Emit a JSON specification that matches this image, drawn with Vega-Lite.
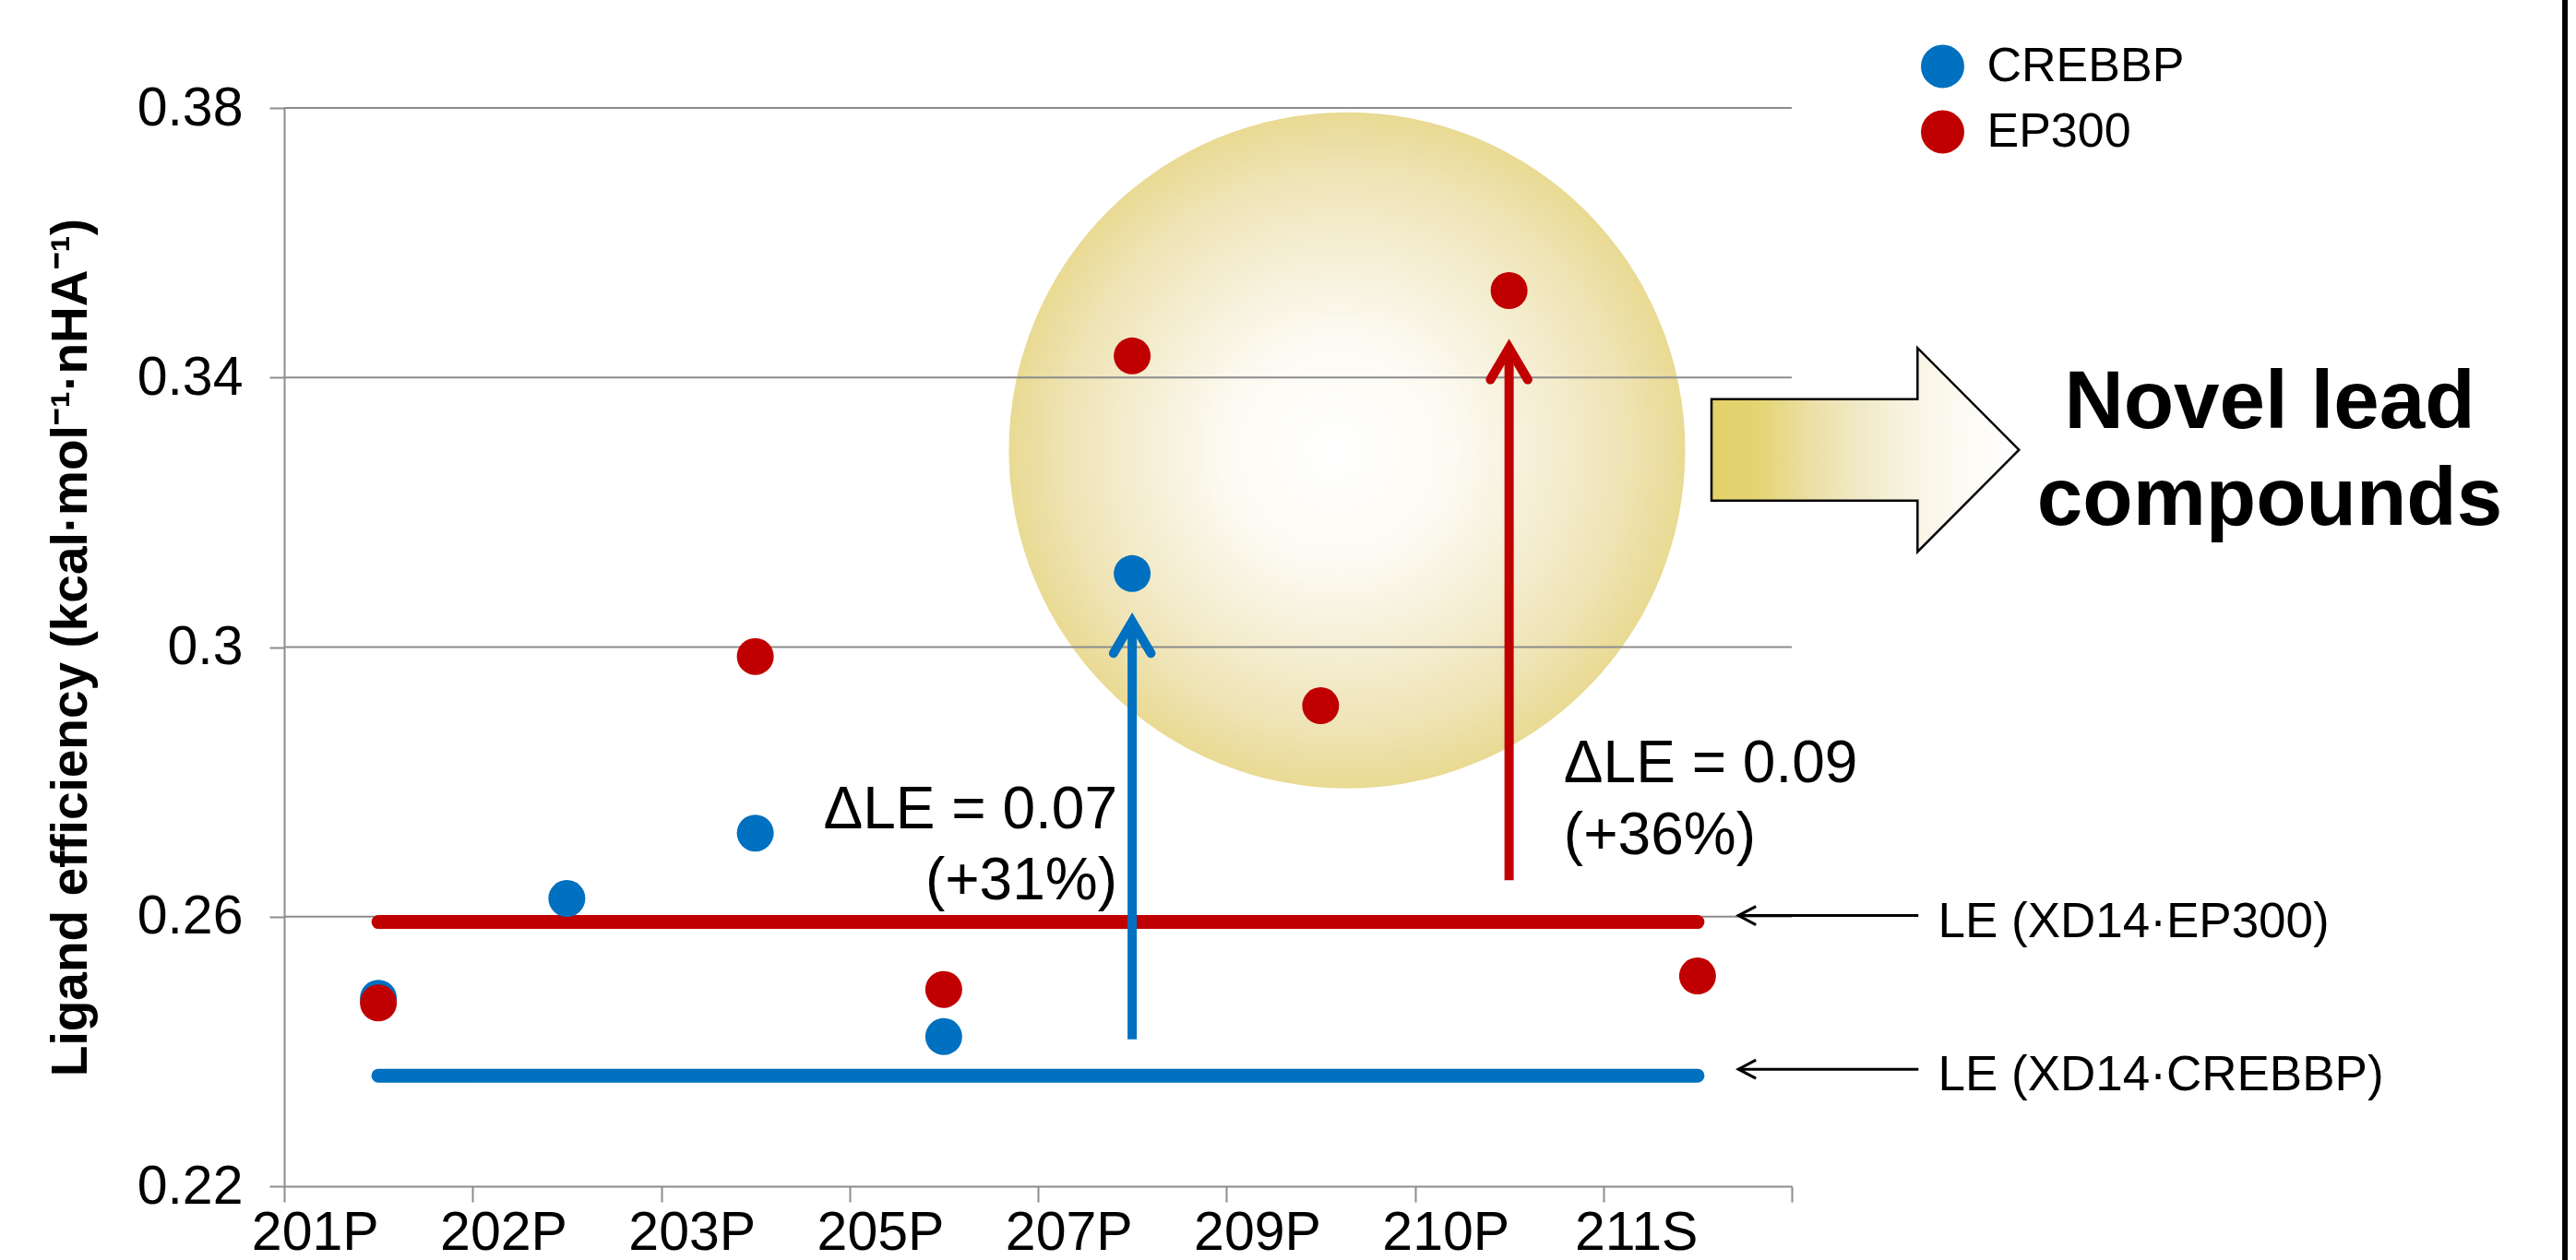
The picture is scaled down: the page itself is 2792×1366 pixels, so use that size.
{
  "$schema": "https://vega.github.io/schema/vega-lite/v6.json",
  "width": 1634,
  "height": 1169,
  "autosize": {"type": "none"},
  "padding": {"left": 308, "top": 117, "right": 850, "bottom": 80},
  "background": "white",
  "config": {
    "view": {"stroke": null},
    "font": "Liberation Sans",
    "axis": {
      "domainColor": "#8c8c8c",
      "domainWidth": 2,
      "tickColor": "#8c8c8c",
      "tickWidth": 2,
      "labelColor": "black",
      "labelFont": "Liberation Sans",
      "labelFontSize": 59,
      "titleColor": "black",
      "titleFont": "Liberation Sans"
    },
    "text": {"font": "Liberation Sans", "color": "black"}
  },
  "datasets": {
    "le": [
      {"compound": "201P", "protein": "CREBBP", "le": 0.2479},
      {"compound": "202P", "protein": "CREBBP", "le": 0.2627},
      {"compound": "203P", "protein": "CREBBP", "le": 0.2724},
      {"compound": "205P", "protein": "CREBBP", "le": 0.2422},
      {"compound": "207P", "protein": "CREBBP", "le": 0.3109},
      {"compound": "201P", "protein": "EP300", "le": 0.2472},
      {"compound": "203P", "protein": "EP300", "le": 0.2986},
      {"compound": "205P", "protein": "EP300", "le": 0.2492},
      {"compound": "207P", "protein": "EP300", "le": 0.3432},
      {"compound": "209P", "protein": "EP300", "le": 0.2913},
      {"compound": "210P", "protein": "EP300", "le": 0.3529},
      {"compound": "211S", "protein": "EP300", "le": 0.2512}
    ],
    "refs": [
      {"protein": "EP300", "le": 0.2592, "label": "LE (XD14·EP300)"},
      {"protein": "CREBBP", "le": 0.2364, "label": "LE (XD14·CREBBP)"}
    ],
    "gains": [
      {"compound": "207P", "protein": "CREBBP", "base": 0.2418, "top": 0.3038},
      {"compound": "210P", "protein": "EP300", "base": 0.2654, "top": 0.3444}
    ],
    "grid": [{"le": 0.26}, {"le": 0.30}, {"le": 0.34}, {"le": 0.38}],
    "one": [{}]
  },
  "layer": [
    {
      "layer": [
        {
          "data": {"name": "one"},
          "mark": {
            "type": "point", "shape": "circle", "filled": true, "size": 537289, "strokeWidth": 0, "opacity": 1,
            "fill": {
              "gradient": "radial", "x1": 0.48, "y1": 0.5, "r1": 0, "x2": 0.5, "y2": 0.5, "r2": 0.5,
              "stops": [
                {"offset": 0, "color": "#FFFFFF"},
                {"offset": 0.35, "color": "#FCFAF1"},
                {"offset": 0.6, "color": "#F5EED3"},
                {"offset": 0.82, "color": "#EFE4B6"},
                {"offset": 1, "color": "#E9DA93"}
              ]
            }
          },
          "encoding": {
            "x": {"datum": 5.64, "type": "quantitative", "scale": {"domain": [0, 8], "nice": false, "zero": false}, "axis": null},
            "y": {"datum": 0.3292, "type": "quantitative", "scale": {"domain": [0.22, 0.38], "nice": false, "zero": false}}
          }
        },
        {
          "data": {"name": "grid"},
          "mark": {"type": "rule", "color": "#8c8c8c", "strokeWidth": 2},
          "encoding": {
            "y": {"field": "le", "type": "quantitative", "scale": {"domain": [0.22, 0.38], "nice": false, "zero": false}}
          }
        },
        {
          "data": {"name": "one"},
          "mark": {
            "type": "point", "filled": true, "size": 111089, "opacity": 1,
            "shape": "M -1,-0.33 L 0.34,-0.33 L 0.34,-0.663 L 1,0 L 0.34,0.663 L 0.34,0.33 L -1,0.33 Z",
            "stroke": "black", "strokeWidth": 2.5,
            "fill": {
              "gradient": "linear", "x1": 0, "y1": 0, "x2": 1, "y2": 0,
              "stops": [
                {"offset": 0, "color": "#E3D26A"},
                {"offset": 0.15, "color": "#E4D472"},
                {"offset": 0.32, "color": "#EBDFA5"},
                {"offset": 0.49, "color": "#F1EAC8"},
                {"offset": 0.67, "color": "#F9F5E5"},
                {"offset": 0.82, "color": "#FCFAF3"},
                {"offset": 1, "color": "#FFFFFF"}
              ]
            }
          },
          "encoding": {
            "x": {"datum": 8.39, "type": "quantitative", "scale": {"domain": [0, 8], "nice": false, "zero": false}, "axis": null},
            "y": {"datum": 0.32926, "type": "quantitative", "scale": {"domain": [0.22, 0.38], "nice": false, "zero": false}}
          }
        },
        {
          "data": {"name": "one"},
          "mark": {"type": "text", "align": "center", "baseline": "alphabetic", "fontSize": 89, "fontWeight": "bold", "lineBreak": "\n", "lineHeight": 105, "text": "Novel lead\ncompounds"},
          "encoding": {
            "x": {"datum": 10.536, "type": "quantitative", "scale": {"domain": [0, 8], "nice": false, "zero": false}, "axis": null},
            "y": {"datum": 0.3325, "type": "quantitative", "scale": {"domain": [0.22, 0.38], "nice": false, "zero": false}}
          }
        },
        {
          "data": {"name": "refs"},
          "mark": {"type": "text", "align": "left", "baseline": "middle", "fontSize": 53, "yOffset": 0},
          "encoding": {
            "x": {"datum": 8.776, "type": "quantitative", "scale": {"domain": [0, 8], "nice": false, "zero": false}, "axis": null},
            "y": {"field": "le", "type": "quantitative", "scale": {"domain": [0.22, 0.38], "nice": false, "zero": false}},
            "text": {"field": "label"}
          }
        },
        {
          "data": {"name": "refs"},
          "mark": {"type": "rule", "color": "black", "strokeWidth": 3, "yOffset": -7},
          "encoding": {
            "x": {"datum": 7.717, "type": "quantitative", "scale": {"domain": [0, 8], "nice": false, "zero": false}, "axis": null},
            "x2": {"datum": 8.672},
            "y": {"field": "le", "type": "quantitative", "scale": {"domain": [0.22, 0.38], "nice": false, "zero": false}}
          }
        },
        {
          "data": {"name": "refs"},
          "mark": {"type": "point", "shape": "M 1.9,-1 L 0,0 L 1.9,1", "size": 400, "filled": false, "stroke": "black", "strokeWidth": 3, "opacity": 1, "yOffset": -7},
          "encoding": {
            "x": {"datum": 7.717, "type": "quantitative", "scale": {"domain": [0, 8], "nice": false, "zero": false}, "axis": null},
            "y": {"field": "le", "type": "quantitative", "scale": {"domain": [0.22, 0.38], "nice": false, "zero": false}}
          }
        },
        {
          "data": {"name": "one"},
          "mark": {"type": "text", "align": "right", "baseline": "alphabetic", "fontSize": 64, "lineBreak": "\n", "lineHeight": 77, "text": "ΔLE = 0.07\n(+31%)"},
          "encoding": {
            "x": {"datum": 4.421, "type": "quantitative", "scale": {"domain": [0, 8], "nice": false, "zero": false}, "axis": null},
            "y": {"datum": 0.2731, "type": "quantitative", "scale": {"domain": [0.22, 0.38], "nice": false, "zero": false}}
          }
        },
        {
          "data": {"name": "one"},
          "mark": {"type": "text", "align": "left", "baseline": "alphabetic", "fontSize": 64, "lineBreak": "\n", "lineHeight": 78, "text": "ΔLE = 0.09\n(+36%)"},
          "encoding": {
            "x": {"datum": 6.79, "type": "quantitative", "scale": {"domain": [0, 8], "nice": false, "zero": false}, "axis": null},
            "y": {"datum": 0.2799, "type": "quantitative", "scale": {"domain": [0.22, 0.38], "nice": false, "zero": false}}
          }
        },
        {
          "data": {"name": "one"},
          "mark": {"type": "rule", "color": "black", "strokeWidth": 6},
          "encoding": {
            "x": {"datum": 12.103, "type": "quantitative", "scale": {"domain": [0, 8], "nice": false, "zero": false}, "axis": null},
            "y": {"datum": 0.40, "type": "quantitative", "scale": {"domain": [0.22, 0.38], "nice": false, "zero": false}},
            "y2": {"datum": 0.20}
          }
        }
      ]
    },
    {
      "layer": [
        {
          "data": {"name": "refs"},
          "mark": {"type": "rule", "strokeWidth": 15, "strokeCap": "round"},
          "encoding": {
            "x": {"datum": "201P", "type": "nominal", "scale": {"domain": ["201P", "202P", "203P", "205P", "207P", "209P", "210P", "211S"], "paddingInner": 0, "paddingOuter": 0}},
            "x2": {"datum": "211S"},
            "y": {"field": "le", "type": "quantitative", "scale": {"domain": [0.22, 0.38], "nice": false, "zero": false}},
            "stroke": {"field": "protein", "type": "nominal", "scale": {"domain": ["EP300", "CREBBP"], "range": ["#C00000", "#0070C0"]}, "legend": null}
          }
        },
        {
          "data": {"name": "gains"},
          "mark": {"type": "rule", "strokeWidth": 10, "strokeCap": "butt"},
          "encoding": {
            "x": {"field": "compound", "type": "nominal", "scale": {"domain": ["201P", "202P", "203P", "205P", "207P", "209P", "210P", "211S"], "paddingInner": 0, "paddingOuter": 0}},
            "y": {"field": "base", "type": "quantitative", "scale": {"domain": [0.22, 0.38], "nice": false, "zero": false}},
            "y2": {"field": "top"},
            "stroke": {"field": "protein", "type": "nominal", "scale": {"domain": ["EP300", "CREBBP"], "range": ["#C00000", "#0070C0"]}, "legend": null}
          }
        },
        {
          "data": {"name": "gains"},
          "mark": {"type": "point", "shape": "M -1.015,1.725 L 0,0 L 1.015,1.725", "size": 1600, "filled": false, "strokeWidth": 10, "strokeCap": "round", "strokeJoin": "miter", "opacity": 1},
          "encoding": {
            "x": {"field": "compound", "type": "nominal", "scale": {"domain": ["201P", "202P", "203P", "205P", "207P", "209P", "210P", "211S"], "paddingInner": 0, "paddingOuter": 0}},
            "y": {"field": "top", "type": "quantitative", "scale": {"domain": [0.22, 0.38], "nice": false, "zero": false}},
            "stroke": {"field": "protein", "type": "nominal", "scale": {"domain": ["EP300", "CREBBP"], "range": ["#C00000", "#0070C0"]}, "legend": null}
          }
        },
        {
          "data": {"name": "le"},
          "mark": {"type": "circle", "size": 1600, "opacity": 1},
          "encoding": {
            "x": {
              "field": "compound", "type": "nominal",
              "scale": {"domain": ["201P", "202P", "203P", "205P", "207P", "209P", "210P", "211S"], "paddingInner": 0, "paddingOuter": 0},
              "axis": {"title": null, "tickBand": "extent", "tickSize": 17, "labelPadding": 33, "labelAngle": 0, "grid": false}
            },
            "y": {
              "field": "le", "type": "quantitative",
              "scale": {"domain": [0.22, 0.38], "nice": false, "zero": false},
              "axis": {
                "title": "Ligand efficiency (kcal·mol⁻¹·nHA⁻¹)",
                "values": [0.22, 0.26, 0.30, 0.34, 0.38],
                "format": ".2~f",
                "grid": false,
                "tickSize": 16,
                "labelPadding": 29,
                "titleFontSize": 55,
                "titleFontWeight": "bold",
                "titlePadding": 43
              }
            },
            "color": {
              "field": "protein", "type": "nominal",
              "scale": {"domain": ["CREBBP", "EP300"], "range": ["#0070C0", "#C00000"]},
              "legend": {
                "orient": "none", "legendX": 1771.5, "legendY": -71, "title": null,
                "symbolType": "circle", "symbolSize": 2209, "symbolStrokeWidth": 0, "symbolOpacity": 1,
                "labelFontSize": 52, "labelFont": "Liberation Sans", "labelColor": "black", "labelLimit": 500,
                "rowPadding": 19, "labelOffset": 22, "padding": 0
              }
            }
          }
        }
      ]
    }
  ],
  "resolve": {"scale": {"x": "independent"}}
}
